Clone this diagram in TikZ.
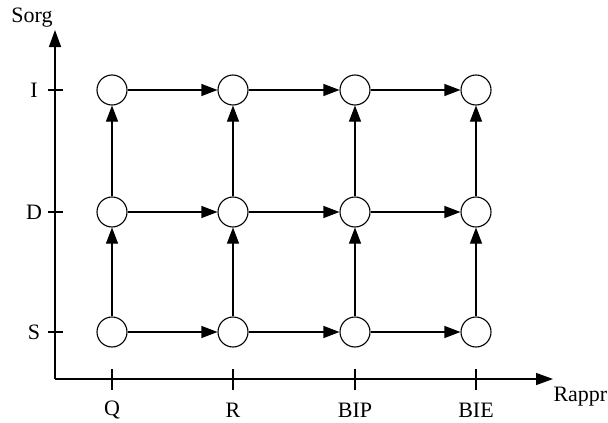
\documentclass[tikz,border=0pt]{standalone}
\usepackage{fontspec}
\setmainfont{Liberation Serif}
\usetikzlibrary{arrows.meta}
\tikzset{
  etat/.style={circle,draw,line width=1.1pt,minimum size=30pt,inner sep=0pt},
  fleche/.style={line width=1.1pt,-{Triangle[length=16pt,width=12pt]}},
  axe/.style={line width=1.5pt,-{Triangle[length=17pt,width=12pt]}},
  etiq/.style={font=\fontsize{22}{26}\selectfont}
}
\begin{document}
\begin{tikzpicture}[x=1pt,y=-1pt]
\useasboundingbox (0,0) rectangle (608,423);

%Les axes
\coordinate (O) at (55,379);
\coordinate (haut) at (55,30);
\coordinate (droite) at (553,379);
\draw[axe] (O) -- (haut);
\draw[axe] (O) -- (droite);
\node[etiq] (sorg) at (32,18) {Sorg};
\node[etiq,anchor=west] (rappr) at (550,397) {Rappr};

%Les graduations
\foreach \y/\nom/\txt in {90/i/I,212/d/D,332/s/S}{
  \draw[line width=1.1pt] (48,\y) -- (63,\y);
  \node[etiq] (l\nom) at (34,\y) {\txt};
}
\foreach \x/\nom/\txt in {112/q/Q,233/r/R,355/bip/BIP,476/bie/BIE}{
  \draw[line width=1.1pt] (\x,369) -- (\x,390);
  \node[etiq] (l\nom) at (\x,410) {\txt};
}

%Les etats
\foreach \x/\c in {112/1,233/2,355/3,476/4}{
  \foreach \y/\r in {90/i,212/d,332/s}{
    \node[etat] (\r\c) at (\x,\y) {};
  }
}

%Les transitions
\foreach \r in {i,d,s}{
  \draw[fleche] (\r1) -- (\r2);
  \draw[fleche] (\r2) -- (\r3);
  \draw[fleche] (\r3) -- (\r4);
}
\foreach \c in {1,2,3,4}{
  \draw[fleche] (s\c) -- (d\c);
  \draw[fleche] (d\c) -- (i\c);
}

\end{tikzpicture}
\end{document}
